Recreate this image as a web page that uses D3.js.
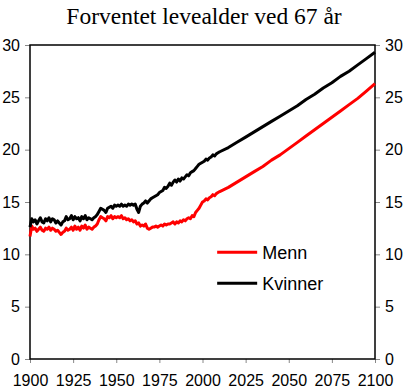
<!DOCTYPE html>
<html>
<head>
<meta charset="utf-8">
<script src="https://cdn.jsdelivr.net/npm/d3@7"></script>
<style>
  body { margin: 0; background: #fff; }
  svg { display: block; }
  .tick text { font-family: "Liberation Sans", Arial, sans-serif; font-size: 16px; fill: #000; }
</style>
</head>
<body>
<div id="chart"></div>
<script>
// observed years 1900-2010 (annual), projection 2015-2100 (every 5 years)
const histYears = d3.range(1900, 2011);
const projYears = d3.range(2015, 2101, 5);

const menHist = [
  11.7, 12.7, 12.4, 12.5, 12.2, 12.4, 12.6, 12.3, 12.2, 12.5,
  12.4, 12.6, 12.3, 12.5, 12.4, 12.2, 12.3, 12.1, 11.9, 12.1,
  12.2, 12.5, 12.3, 12.4, 12.6, 12.3, 12.7, 12.4, 12.6, 12.3,
  12.7, 12.5, 12.8, 12.4, 12.6, 12.5, 12.4, 12.6, 12.7, 12.9,
  13.3, 13.6, 13.5, 13.4, 13.2, 13.6, 13.5, 13.7, 13.4, 13.6,
  13.5, 13.6, 13.5, 13.7, 13.4, 13.5, 13.3, 13.4, 13.2, 13.3,
  13.1, 13.2, 12.9, 13.0, 12.7, 12.8, 12.7, 12.9, 12.5, 12.4,
  12.5, 12.6, 12.6, 12.7, 12.6, 12.7, 12.8, 12.7, 12.9, 12.8,
  12.9, 12.9, 13.0, 13.1, 12.9, 13.1, 13.0, 13.2, 13.1, 13.3,
  13.2, 13.4, 13.5, 13.4, 13.7, 13.6, 14.0, 14.2, 14.4, 14.7,
  15.0, 15.1, 15.3, 15.2, 15.4, 15.5, 15.7, 15.6, 15.8, 15.9,
  16.0
];
const menProj = [16.4, 16.9, 17.4, 17.9, 18.4, 19.0, 19.5, 20.1, 20.7,
  21.3, 21.9, 22.5, 23.1, 23.7, 24.3, 24.9, 25.6, 26.3];

const womenHist = [
  12.6, 13.4, 13.1, 13.3, 12.9, 13.2, 13.5, 13.1, 13.0, 13.4,
  13.2, 13.5, 13.1, 13.4, 13.3, 13.0, 13.2, 13.0, 12.8, 13.1,
  13.2, 13.6, 13.3, 13.4, 13.7, 13.3, 13.6, 13.4, 13.5, 13.2,
  13.6, 13.4, 13.7, 13.3, 13.5, 13.4, 13.3, 13.5, 13.6, 13.8,
  14.1, 14.4, 14.3, 14.2, 14.0, 14.4, 14.5, 14.6, 14.4, 14.7,
  14.6, 14.7, 14.6, 14.8, 14.6, 14.7, 14.6, 14.8, 14.7, 14.8,
  14.7, 14.8, 14.3, 14.0, 14.6, 14.8, 14.9, 15.1, 14.9, 15.1,
  15.3, 15.4, 15.5, 15.6, 15.7, 15.9, 16.0, 16.1, 16.4, 16.3,
  16.5, 16.8, 16.6, 16.9, 17.1, 16.9, 17.2, 17.0, 17.3, 17.2,
  17.4, 17.6, 17.5, 17.8, 17.9, 18.0, 18.2, 18.4, 18.6, 18.7,
  18.8, 18.9, 19.1, 19.0, 19.2, 19.3, 19.5, 19.4, 19.6, 19.7,
  19.8
];
const womenProj = [20.2, 20.7, 21.2, 21.7, 22.2, 22.7, 23.2, 23.7, 24.2,
  24.8, 25.3, 25.9, 26.4, 27.0, 27.5, 28.1, 28.7, 29.3];

const xTicks = [1900, 1925, 1950, 1975, 2000, 2025, 2050, 2075, 2100];
const yTicks = [0, 5, 10, 15, 20, 25, 30];

const seriesNames = ['Menn', 'Kvinner'];
const seriesColors = ['#ff0000', '#000000'];

const title = 'Forventet levealder ved 67 år';

function drawChart() {
  const width = 405, height = 391;
  const margin = { top: 45, right: 30, bottom: 32, left: 30 };
  const innerW = width - margin.left - margin.right;
  const innerH = height - margin.top - margin.bottom;

  const svg = d3.select('#chart').append('svg')
    .attr('width', width)
    .attr('height', height);

  svg.append('text')
    .attr('x', 204)
    .attr('y', 24)
    .attr('text-anchor', 'middle')
    .style('font-family', '"Liberation Serif", "Times New Roman", serif')
    .style('font-size', '23.5px')
    .text(title);

  const g = svg.append('g')
    .attr('transform', `translate(${margin.left},${margin.top})`);

  const x = d3.scaleLinear().domain([1900, 2100]).range([0, innerW]);
  const y = d3.scaleLinear().domain([0, 30]).range([innerH, 0]);

  const series = [
    histYears.map((yr, i) => ({ year: yr, value: menHist[i] }))
      .concat(projYears.map((yr, i) => ({ year: yr, value: menProj[i] }))),
    histYears.map((yr, i) => ({ year: yr, value: womenHist[i] }))
      .concat(projYears.map((yr, i) => ({ year: yr, value: womenProj[i] })))
  ];

  // axes
  const styleAxis = sel => {
    sel.select('.domain').remove();
    sel.selectAll('.tick line').attr('stroke', '#888');
  };

  g.append('g')
    .call(d3.axisLeft(y).tickValues(yTicks).tickSize(5).tickPadding(5))
    .call(styleAxis);

  g.append('g')
    .attr('transform', `translate(${innerW},0)`)
    .call(d3.axisRight(y).tickValues(yTicks).tickSize(5).tickPadding(5))
    .call(styleAxis);

  g.append('g')
    .attr('transform', `translate(0,${innerH})`)
    .call(d3.axisBottom(x).tickValues(xTicks).tickFormat(d3.format('d')).tickSize(4).tickPadding(12))
    .call(styleAxis);

  // frame
  g.append('rect')
    .attr('width', innerW)
    .attr('height', innerH)
    .attr('fill', 'none')
    .attr('stroke', '#000')
    .attr('stroke-width', 1.5);

  const line = d3.line()
    .x(d => x(d.year))
    .y(d => y(d.value));

  g.selectAll('.series')
    .data(series)
    .join('path')
    .attr('class', 'series')
    .attr('fill', 'none')
    .attr('stroke', (d, i) => seriesColors[i])
    .attr('stroke-width', 3)
    .attr('stroke-linejoin', 'round')
    .attr('d', line);

  // legend
  const legend = g.append('g').attr('transform', `translate(${x(2008.5)},${y(10.2)})`);
  seriesNames.forEach((name, i) => {
    const row = legend.append('g').attr('transform', `translate(0,${i * 31})`);
    row.append('line')
      .attr('x1', 0).attr('x2', 40)
      .attr('stroke', seriesColors[i])
      .attr('stroke-width', 3);
    row.append('text')
      .attr('x', 45)
      .attr('dy', '0.35em')
      .style('font-family', '"Liberation Sans", Arial, sans-serif')
      .style('font-size', '18px')
      .text(name);
  });
}

drawChart();
</script>
</body>
</html>
